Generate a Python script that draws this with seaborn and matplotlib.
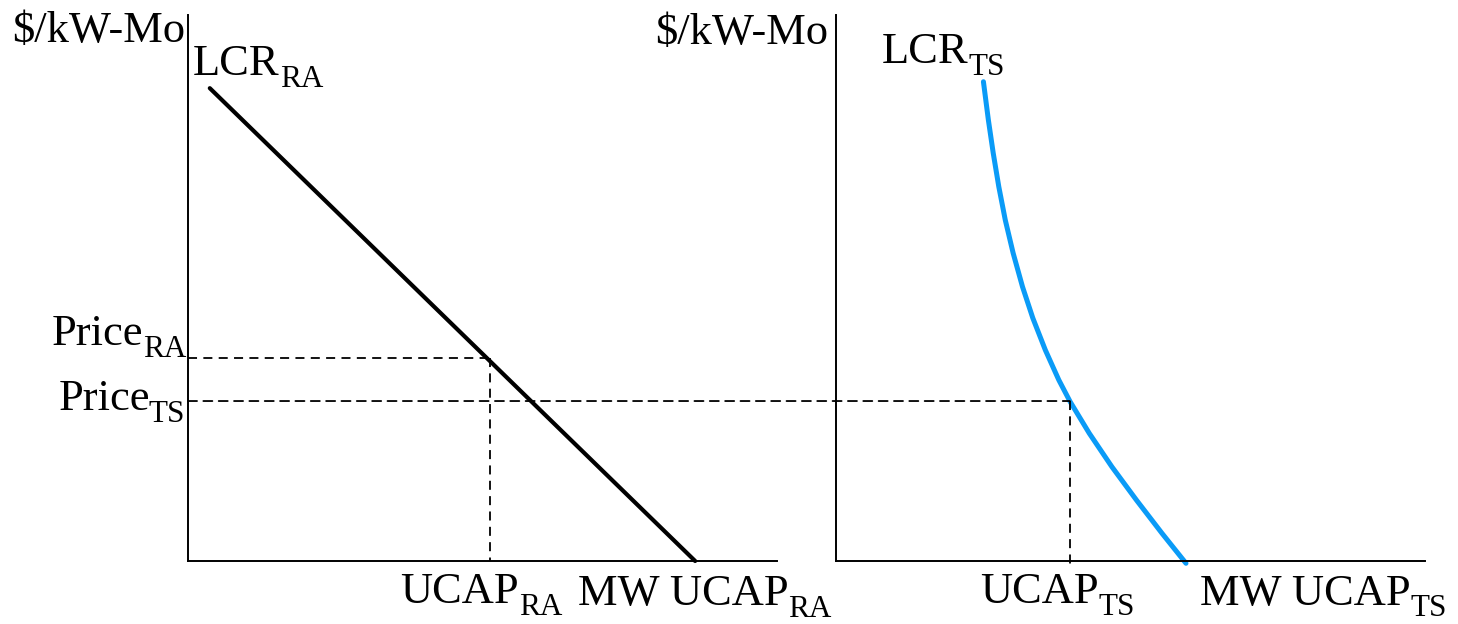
import matplotlib
matplotlib.use("Agg")
import matplotlib.pyplot as plt
from matplotlib.patches import ConnectionPatch
from matplotlib.transforms import IdentityTransform
import seaborn as sns

# ---- data (abstract units, 0-100 on each axis) ----
ra_x = [3.7, 86.1]
ra_y = [86.6, 0.0]

ts_x = [25.03, 25.87, 26.69, 27.64, 28.74, 30.07, 31.66, 33.41, 35.54,
        37.83, 39.75, 43.00, 46.83, 51.00, 55.35, 59.42]
ts_y = [87.78, 80.77, 74.73, 68.55, 62.45, 56.41, 50.24, 44.51, 38.64,
        33.15, 29.18, 23.39, 17.27, 11.17, 5.07, -0.42]

price_ra = 37.2
ucap_ra = 51.3
price_ts = 29.3
ucap_ts = 39.7

sns.set_theme(style="white")
plt.rcParams["font.family"] = ["Liberation Serif", "DejaVu Serif"]

W, H = 1458, 624
fig = plt.figure(figsize=(W / 100, H / 100), dpi=100)
fig.patch.set_facecolor("white")

axL = fig.add_axes([188 / W, (H - 561) / H, 589 / W, 546 / H])
axR = fig.add_axes([836 / W, (H - 561) / H, 589 / W, 546 / H])

for ax in (axL, axR):
    ax.set_xlim(0, 100)
    ax.set_ylim(0, 100)
    ax.set_xticks([])
    ax.set_yticks([])
    ax.set_facecolor("white")
    for s in ("top", "right"):
        ax.spines[s].set_visible(False)
    for s in ("left", "bottom"):
        ax.spines[s].set_color("black")
        ax.spines[s].set_linewidth(1.4)

dash = (0, (5, 3.5))
dlw = 1.3

# Left panel
sns.lineplot(x=ra_x, y=ra_y, ax=axL, color="black", linewidth=3.0, sort=False,
             estimator=None, clip_on=False)
axL.plot([0, ucap_ra], [price_ra, price_ra], color="black", lw=dlw, ls=dash)
axL.plot([ucap_ra, ucap_ra], [price_ra, 0], color="black", lw=dlw, ls=dash)

# Right panel
sns.lineplot(x=ts_x, y=ts_y, ax=axR, color="#0A9BF7", linewidth=3.6, sort=False,
             estimator=None, clip_on=False)
for ln in axR.get_lines():
    ln.set_solid_joinstyle("round")
axR.plot([ucap_ts, ucap_ts], [price_ts, -1.3], color="black", lw=dlw, ls=dash,
         clip_on=False)
con = ConnectionPatch(xyA=(0, price_ts), coordsA=axL.transData,
                      xyB=(ucap_ts, price_ts), coordsB=axR.transData,
                      color="black", lw=dlw, ls=dash)
fig.add_artist(con)

fs = 32
sfs = 22.4
fig.canvas.draw()
renderer = fig.canvas.get_renderer()
ident = IdentityTransform()


def label(ax, x, y, main, sub=None, ha="left", drop=12):
    px, py = ax.transAxes.transform((x, y))
    if sub is None:
        fig.text(px, py, main, transform=ident, fontsize=fs, ha=ha,
                 va="baseline", color="black")
        return
    if ha == "left":
        t = fig.text(px, py, main, transform=ident, fontsize=fs, ha="left",
                     va="baseline", color="black")
        x1 = t.get_window_extent(renderer).x1
        fig.text(x1, py - drop, sub, transform=ident, fontsize=sfs,
                 ha="left", va="baseline", color="black")
    else:
        s = fig.text(px, py - drop, sub, transform=ident, fontsize=sfs,
                     ha="right", va="baseline", color="black")
        x0 = s.get_window_extent(renderer).x0
        fig.text(x0 + 1, py, main, transform=ident, fontsize=fs, ha="right",
                 va="baseline", color="black")


label(axL, -0.005, 0.9505, "$/kW-Mo", ha="right")
label(axR, -0.0136, 0.947, "$/kW-Mo", ha="right")

label(axL, 0.0085, 0.890, "LCR", "RA")
label(axR, 0.078, 0.912, "LCR", "TS")

label(axL, -0.0034, 0.3956, "Price", "RA", ha="right")
label(axL, -0.005, 0.2766, "Price", "TS", ha="right")

label(axL, 0.36, -0.077, "UCAP", "RA")
label(axL, 0.662, -0.081, "MW UCAP", "RA")
label(axR, 0.2445, -0.077, "UCAP", "TS")
label(axR, 0.618, -0.0806, "MW UCAP", "TS", drop=11)

fig.savefig("out.png", dpi=100, facecolor="white")
